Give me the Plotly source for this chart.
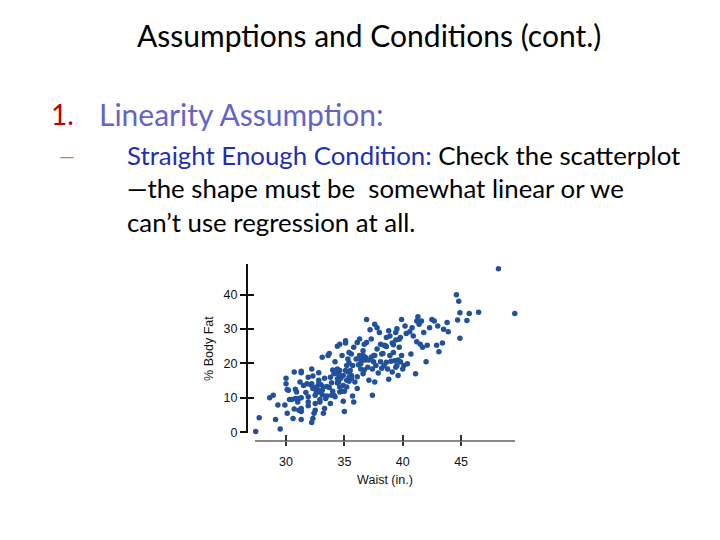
import plotly.graph_objects as go

waist = [27.4, 27.7, 28.6, 28.9, 29.1, 29.3, 29.5, 29.9, 30.0, 30.0, 30.1, 30.2, 30.1, 30.3, 30.5, 30.6, 30.7, 30.7,
         30.8, 30.9, 31.0, 31.1, 31.1, 31.3, 31.3, 31.3, 31.3, 31.3, 31.3, 31.7, 31.8, 31.9, 31.9, 31.9, 32.1, 32.2,
         32.2, 32.2, 32.3, 32.3, 32.4, 32.5, 32.5, 32.6, 32.6, 32.7, 32.8, 32.8, 32.9, 32.9, 33.0, 33.1, 33.1, 33.1,
         33.2, 33.3, 33.3, 33.4, 33.5, 33.6, 33.7, 33.7, 33.8, 33.8, 33.9, 34.0, 34.1, 34.2, 34.2, 34.3, 34.4, 34.4,
         34.4, 34.4, 34.5, 34.6, 34.6, 34.6, 34.7, 34.8, 34.8, 34.9, 34.9, 35.0, 35.0, 35.1, 35.1, 35.2, 35.2, 35.3,
         35.3, 35.4, 35.4, 35.4, 35.5, 35.6, 35.6, 35.7, 35.7, 35.8, 35.8, 35.9, 36.0, 36.1, 36.1, 36.2, 36.3, 36.3,
         36.4, 36.4, 36.5, 36.6, 36.6, 36.7, 36.7, 36.8, 36.8, 36.9, 37.0, 37.1, 37.1, 37.2, 37.3, 37.3, 37.4, 37.4,
         37.5, 37.6, 37.6, 37.7, 37.8, 37.8, 37.9, 38.0, 38.1, 38.1, 38.2, 38.3, 38.4, 38.4, 38.5, 38.6, 38.6, 38.7,
         38.8, 38.8, 38.9, 39.0, 39.1, 39.1, 39.2, 39.3, 39.4, 39.4, 39.5, 39.6, 39.6, 39.7, 39.8, 39.9, 39.9, 40.0,
         40.1, 40.2, 40.3, 40.4, 40.6, 40.7, 40.8, 40.9, 41.1, 41.2, 41.2, 41.3, 41.4, 41.5, 41.6, 41.7, 41.8, 42.0,
         42.1, 42.3, 42.5, 42.7, 42.9, 43.0, 43.1, 43.4, 43.5, 43.8, 43.9, 44.6, 44.8, 44.7, 44.9, 44.9, 45.5, 45.7,
         46.5, 48.2, 49.6,
         34.0, 34.1, 34.5, 34.6, 34.9, 35.1, 35.4, 35.6, 35.2, 33.9, 33.5, 33.2, 32.8, 32.5, 32.8, 32.3, 36.1, 36.4,
         36.6, 36.9, 37.5, 38.2, 38.6, 39.2, 39.4, 39.7, 39.8, 39.5, 38.9, 37.6, 31.9, 30.8, 31.5, 31.2]
body_fat = [0.2, 4.2, 10.0, 10.7, 3.7, 7.9, 0.9, 7.9, 14.1, 15.7, 12.4, 12.2, 5.5, 9.5, 9.5, 4.0, 6.7, 17.5,
            12.5, 11.7, 8.8, 6.4, 9.8, 17.3, 17.7, 6.9, 6.0, 3.7, 10.0, 11.5, 14.1, 8.8, 7.7, 16.0, 13.8, 14.1,
            18.4, 2.8, 12.7, 4.0, 5.5, 6.4, 8.3, 11.7, 13.1, 12.4, 17.3, 15.1, 9.5, 8.8, 13.8, 10.9, 21.8, 12.2,
            5.5, 6.9, 15.7, 9.8, 10.5, 22.3, 22.9, 13.0, 8.3, 16.0, 14.4, 11.9, 10.7, 10.3, 20.5, 17.5, 25.0, 14.3,
            18.4, 15.5, 14.6, 25.6, 11.7, 17.9, 15.7, 22.3, 11.9, 13.6, 9.0, 11.9, 6.0, 26.6, 25.9, 15.1, 19.4, 21.3,
            17.5, 20.2, 23.2, 14.8, 17.9, 16.5, 22.7, 19.4, 10.5, 8.8, 24.7, 14.6, 21.3, 12.7, 26.1, 19.6, 22.3, 27.1,
            18.4, 21.0, 20.8, 23.7, 17.0, 18.1, 25.6, 21.0, 21.8, 32.8, 18.9, 21.0, 15.1, 29.8, 21.8, 27.1, 18.4, 10.7,
            22.3, 14.6, 31.4, 19.4, 30.4, 24.2, 17.2, 29.0, 25.6, 20.5, 18.6, 22.9, 25.3, 19.4, 25.1, 27.5, 20.3, 18.4,
            29.5, 15.4, 28.0, 20.6, 17.5, 25.9, 23.2, 20.8, 29.0, 26.8, 30.1, 16.5, 21.0, 24.7, 27.5, 32.8, 22.3, 18.4,
            19.4, 30.9, 28.7, 19.9, 29.2, 22.7, 30.4, 28.0, 17.0, 32.3, 26.3, 33.6, 31.4, 25.6, 32.3, 24.7, 29.0, 20.5,
            25.3, 30.4, 32.8, 32.3, 25.3, 30.9, 23.4, 25.9, 29.9, 31.9, 29.2, 40.0, 38.1, 32.6, 34.7, 27.3, 32.5, 34.5,
            34.9, 47.5, 34.5,
            18.1, 17.0, 16.7, 13.1, 16.5, 17.9, 16.0, 15.7, 13.1, 10.7, 13.3, 13.1, 11.7, 10.7, 14.1, 16.3, 16.1, 19.9,
            22.3, 26.1, 20.5, 22.7, 24.9, 25.4, 18.9, 27.0, 20.5, 19.4, 22.3, 22.3, 10.3, 9.8, 13.6, 14.6]

x_ticks = [30, 35, 40, 45]
y_ticks = [0, 10, 20, 30, 40]
x_title = "Waist (in.)"
y_title = "% Body Fat"

W, H = 720, 540
def px(x):
    return x / W
def py(y):
    return 1 - y / H

# pixel-derived axis geometry
x_dom = [px(255), px(515)]
x_range = [27.34, 49.62]
x_pos = py(446)
y_dom = [py(438), py(267)]
y_range = [-0.29, 48.9]
y_pos = px(247)

fig = go.Figure()
fig.add_trace(go.Scatter(x=waist, y=body_fat, mode="markers", cliponaxis=False,
                         marker=dict(size=5.5, color="#21519a"), showlegend=False,
                         xaxis="x", yaxis="y"))
fig.add_trace(go.Scatter(x=[None], y=[None], mode="markers", showlegend=False,
                         xaxis="x2", yaxis="y2", hoverinfo="skip"))

axfont = dict(family="Liberation Sans, Arial", size=12.5, color="#111")
fig.update_layout(
    width=W, height=H, margin=dict(l=0, r=0, t=0, b=0),
    paper_bgcolor="white", plot_bgcolor="white",
    xaxis=dict(domain=x_dom, range=x_range, anchor="free", position=x_pos,
               showline=True, linecolor="#8a8a8a", linewidth=2, showgrid=False, zeroline=False,
               tickvals=x_ticks, ticks="outside", ticklen=4, tickwidth=2, tickcolor="#333",
               ticklabelstandoff=5,
               tickfont=axfont, title=dict(text=x_title, font=axfont, standoff=6)),
    xaxis2=dict(domain=x_dom, range=x_range, anchor="free", position=x_pos, overlaying="x",
                showline=False, showgrid=False, zeroline=False, showticklabels=False,
                tickvals=x_ticks, ticks="inside", ticklen=6, tickwidth=2, tickcolor="#333"),
    yaxis=dict(domain=y_dom, range=y_range, anchor="free", position=y_pos,
               showline=True, linecolor="#111", linewidth=2, showgrid=False, zeroline=False,
               tickvals=y_ticks, ticks="outside", ticklen=6, tickwidth=2, tickcolor="#111",
               tickfont=axfont, title=dict(text=y_title, font=axfont, standoff=6)),
    yaxis2=dict(domain=y_dom, range=y_range, anchor="free", position=y_pos, overlaying="y",
                showline=False, showgrid=False, zeroline=False, showticklabels=False,
                tickvals=y_ticks, ticks="inside", ticklen=6, tickwidth=2, tickcolor="#111"),
)

tf = "Lato, Open Sans, sans-serif"
def ann(text, x, y, size, color="black", xanchor="left"):
    fig.add_annotation(text=text, x=px(x), y=py(y), xref="paper", yref="paper",
                       xanchor=xanchor, yanchor="middle", showarrow=False,
                       font=dict(family=tf, size=size, color=color))

ann("Assumptions and Conditions (cont.)", 369, 35, 30, xanchor="center")
ann("1.", 49, 115, 28, color="#c00000")
ann("Linearity Assumption:", 97, 115, 30, color="#6464c8")
ann("—", 57, 157, 20, color="#c8864e")
ann("<span style='color:#1f2fb4'>Straight Enough Condition:</span> Check the scatterplot", 125, 157, 25.8)
ann("—the shape must be  somewhat linear or we", 125, 190, 25.8)
ann("can’t use regression at all.", 125, 224, 25.8)

fig.write_html("out.html")
